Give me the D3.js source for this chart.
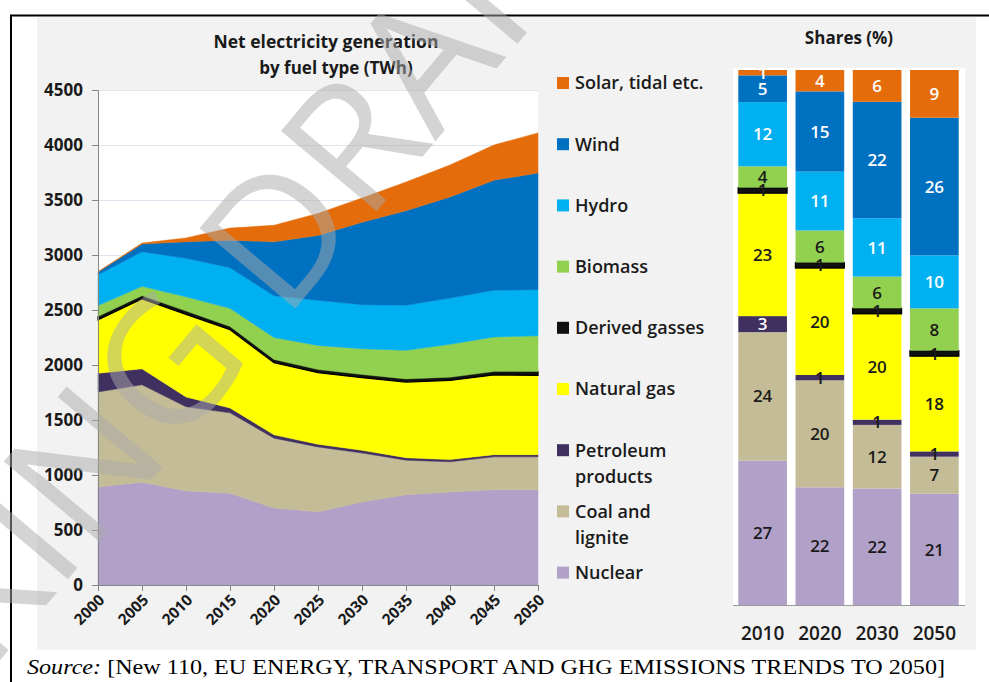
<!DOCTYPE html>
<html>
<head>
<meta charset="utf-8">
<script src="https://cdn.jsdelivr.net/npm/d3@7"></script>
<style>
  body { margin: 0; background: #fff; }
  svg { display: block; }
</style>
</head>
<body>
<div id="chart"></div>
<script>
// data
var years = [2000, 2005, 2010, 2015, 2020, 2025, 2030, 2035, 2040, 2045, 2050];
var nuclear   = [890, 935, 855, 835, 700, 665, 755, 820, 845, 865, 865];
var coal      = [865, 885, 765, 730, 635, 590, 445, 315, 275, 300, 300];
var petroleum = [170, 145, 90, 45, 30, 25, 25, 22, 20, 20, 20];
var gas       = [485, 635, 750, 710, 655, 650, 660, 688, 720, 725, 720];
var derived   = [30, 30, 30, 30, 30, 28, 28, 28, 28, 30, 35];
var biomass   = [100, 85, 130, 165, 200, 220, 235, 260, 300, 315, 325];
var hydro     = [280, 315, 350, 370, 380, 410, 400, 410, 420, 425, 420];
var wind      = [25, 70, 150, 250, 490, 590, 750, 860, 920, 1000, 1060];
var solar     = [2, 8, 35, 110, 150, 200, 220, 260, 290, 320, 365];

var yTicks = [0, 500, 1000, 1500, 2000, 2500, 3000, 3500, 4000, 4500];

// shares (%) for the bars
var shareYears = ["2010", "2020", "2030", "2050"];
var shareNuclear   = [27, 22, 22, 21];
var shareCoal      = [24, 20, 12, 7];
var sharePetroleum = [3, 1, 1, 1];
var shareGas       = [23, 20, 20, 18];
var shareDerived   = [1, 1, 1, 1];
var shareBiomass   = [4, 6, 6, 8];
var shareHydro     = [12, 11, 11, 10];
var shareWind      = [5, 15, 22, 26];
var shareSolar     = [1, 4, 6, 9];

var keys = ["nuclear", "coal", "petroleum", "gas", "derived", "biomass", "hydro", "wind", "solar"];
var legendLabels = {
  solar: ["Solar, tidal etc."], wind: ["Wind"], hydro: ["Hydro"], biomass: ["Biomass"],
  derived: ["Derived gasses"], gas: ["Natural gas"], petroleum: ["Petroleum", "products"],
  coal: ["Coal and", "lignite"], nuclear: ["Nuclear"]
};
var colors = {
  nuclear: "#b1a0c7", coal: "#c4bc96", petroleum: "#403060", gas: "#ffff00",
  derived: "#111111", biomass: "#92d050", hydro: "#00b0f0", wind: "#0070c0", solar: "#e46c0a"
};
var whiteText = { petroleum: true, hydro: true, wind: true, solar: true };

var seriesValues = { nuclear: nuclear, coal: coal, petroleum: petroleum, gas: gas, derived: derived,
  biomass: biomass, hydro: hydro, wind: wind, solar: solar };
var shareValues = { nuclear: shareNuclear, coal: shareCoal, petroleum: sharePetroleum, gas: shareGas,
  derived: shareDerived, biomass: shareBiomass, hydro: shareHydro, wind: shareWind, solar: shareSolar };

var W = 989, H = 682;
var font = "'Open Sans', sans-serif";

var svg = d3.select("#chart").append("svg")
    .attr("width", W).attr("height", H);

// frame and grey panel
svg.append("rect").attr("x", 37).attr("y", 17).attr("width", 939).attr("height", 633).attr("fill", "#f2f2f2");
svg.append("line").attr("x1", 10).attr("x2", W).attr("y1", 15.5).attr("y2", 15.5).attr("stroke", "#000").attr("stroke-width", 2);
svg.append("line").attr("x1", 11).attr("x2", 11).attr("y1", 15).attr("y2", H).attr("stroke", "#000").attr("stroke-width", 2);

// ---------- area chart ----------
var table = years.map(function(y, i) {
  var row = { year: y };
  keys.forEach(function(k) { row[k] = seriesValues[k][i]; });
  return row;
});

var x = d3.scaleLinear().domain([2000, 2050]).range([98, 538]);
var y = d3.scaleLinear().domain([0, 4500]).range([585, 90]);

svg.append("rect").attr("x", 98).attr("y", 90).attr("width", 440).attr("height", 495).attr("fill", "#fff");

svg.append("g").selectAll("line").data(yTicks.slice(1)).enter().append("line")
    .attr("x1", 98).attr("x2", 538)
    .attr("y1", function(d) { return y(d) + 0.5; }).attr("y2", function(d) { return y(d) + 0.5; })
    .attr("stroke", "#dfe4ee");

var stacked = d3.stack().keys(keys)(table);

var area = d3.area()
    .x(function(d) { return x(d.data.year); })
    .y0(function(d) { return y(d[0]); })
    .y1(function(d) { return y(d[1]); });

svg.append("g").selectAll("path").data(stacked).enter().append("path")
    .attr("d", area)
    .attr("fill", function(d) { return colors[d.key]; })
    .attr("stroke", function(d) { return d.key === "derived" ? "#000" : colors[d.key]; })
    .attr("stroke-width", function(d) { return d.key === "derived" ? 1.2 : 0.5; });

var yAxis = svg.append("g")
    .attr("transform", "translate(98,0)")
    .call(d3.axisLeft(y).tickValues(yTicks).tickFormat(d3.format("d")).tickSize(6).tickSizeOuter(0).tickPadding(9));
var xAxis = svg.append("g")
    .attr("transform", "translate(0,585)")
    .call(d3.axisBottom(x).tickValues(years).tickFormat(d3.format("d")).tickSize(6).tickSizeOuter(0));
[yAxis, xAxis].forEach(function(a) {
  a.select(".domain").attr("stroke", "#868686");
  a.selectAll(".tick line").attr("stroke", "#868686");
  a.selectAll("text").attr("font-family", font).attr("font-weight", 700)
    .attr("font-size", 17).attr("fill", "#1a1a1a");
});
xAxis.selectAll("text")
    .attr("font-size", 15.5)
    .attr("text-anchor", "end")
    .attr("dy", null).attr("y", 0)
    .attr("transform", "translate(7,16) rotate(-45)");

svg.append("text").attr("x", 326).attr("y", 48).attr("text-anchor", "middle")
    .attr("font-family", font).attr("font-weight", 700).attr("font-size", 17.5).attr("fill", "#1a1a1a")
    .text("Net electricity generation");
svg.append("text").attr("x", 336).attr("y", 74).attr("text-anchor", "middle")
    .attr("font-family", font).attr("font-weight", 700).attr("font-size", 17).attr("fill", "#1a1a1a")
    .text("by fuel type (TWh)");

// ---------- legend ----------
var legendOrder = keys.slice().reverse();
var legend = svg.append("g").selectAll("g").data(legendOrder).enter().append("g")
    .attr("transform", function(d, i) { return "translate(557," + (83 + i * 61.2) + ")"; });
legend.append("rect").attr("x", 0).attr("y", -6).attr("width", 12).attr("height", 12)
    .attr("fill", function(d) { return colors[d]; });
legend.selectAll("text").data(function(d) { return legendLabels[d]; }).enter().append("text")
    .attr("x", 18).attr("y", function(d, i) { return i * 26.5; })
    .attr("dy", "0.36em")
    .attr("font-family", font).attr("font-weight", 600).attr("font-size", 18).attr("fill", "#1a1a1a")
    .text(function(d) { return d; });

// ---------- shares bars ----------
var shareTable = shareYears.map(function(yr, i) {
  var row = { year: yr };
  keys.forEach(function(k) { row[k] = shareValues[k][i]; });
  return row;
});
var shareStack = d3.stack().keys(keys).offset(d3.stackOffsetExpand)(shareTable);

var xb = d3.scaleBand().domain(shareYears).range([734, 963]).paddingInner(0.15).paddingOuter(0.075);
var yb = d3.scaleLinear().domain([0, 1]).range([605, 70]);

svg.append("rect").attr("x", 733).attr("y", 68).attr("width", 232).attr("height", 537).attr("fill", "#fff");

svg.append("defs").append("clipPath").attr("id", "barclip")
  .append("rect").attr("x", 733).attr("y", 70).attr("width", 232).attr("height", 540);

var layers = svg.append("g").selectAll("g").data(shareStack).enter().append("g")
    .attr("fill", function(d) { return colors[d.key]; });
layers.selectAll("rect").data(function(d) { return d; }).enter().append("rect")
    .attr("x", function(d) { return xb(d.data.year); })
    .attr("width", xb.bandwidth())
    .attr("y", function(d) { return yb(d[1]); })
    .attr("height", function(d) { return yb(d[0]) - yb(d[1]); })
    .attr("stroke", function(d) { return d3.select(this.parentNode).datum().key === "derived" ? "#000" : "none"; })
    .attr("stroke-width", 1.5);

var labels = svg.append("g").attr("clip-path", "url(#barclip)");
shareStack.forEach(function(layer) {
  labels.selectAll(null).data(layer).enter().append("text")
    .attr("x", function(d) { return xb(d.data.year) + xb.bandwidth() / 2; })
    .attr("y", function(d) { return (yb(d[0]) + yb(d[1])) / 2; })
    .attr("dy", "0.36em")
    .attr("text-anchor", "middle")
    .attr("font-family", font).attr("font-weight", 600).attr("font-size", 17)
    .attr("fill", function(d) {
      var v = d.data[layer.key];
      return whiteText[layer.key] && !(layer.key === "petroleum" && v < 2) ? "#fff" : "#1a1a1a";
    })
    .text(function(d) { return d.data[layer.key]; });
});

svg.append("line").attr("x1", 733).attr("x2", 965).attr("y1", 605.5).attr("y2", 605.5).attr("stroke", "#9a9a9a");

svg.append("g").selectAll("text").data(shareYears).enter().append("text")
    .attr("x", function(d) { return xb(d) + xb.bandwidth() / 2; })
    .attr("y", 640).attr("text-anchor", "middle")
    .attr("font-family", font).attr("font-weight", 600).attr("font-size", 19).attr("fill", "#1a1a1a")
    .text(function(d) { return d; });

svg.append("text").attr("x", 849).attr("y", 44).attr("text-anchor", "middle")
    .attr("font-family", font).attr("font-weight", 700).attr("font-size", 17).attr("fill", "#1a1a1a")
    .text("Shares (%)");

// ---------- source ----------
var src = svg.append("text").attr("x", 27).attr("y", 674)
    .attr("textLength", 918).attr("lengthAdjust", "spacingAndGlyphs")
    .attr("font-family", "'Liberation Serif', 'Times New Roman', serif").attr("font-size", 22).attr("fill", "#000");
src.append("tspan").attr("font-style", "italic").text("Source:");
src.append("tspan").text(" [New 110, EU ENERGY, TRANSPORT AND GHG EMISSIONS TRENDS TO 2050]");

// ---------- watermark ----------
svg.append("text")
    .attr("transform", "translate(130,410) rotate(-50)")
    .attr("text-anchor", "middle").attr("dy", "0.35em")
    .attr("font-family", font).attr("font-weight", 400).attr("font-size", 175)
    .attr("fill", "rgba(170,170,170,0.5)")
    .text("WORKING DRAFT");
</script>
</body>
</html>
